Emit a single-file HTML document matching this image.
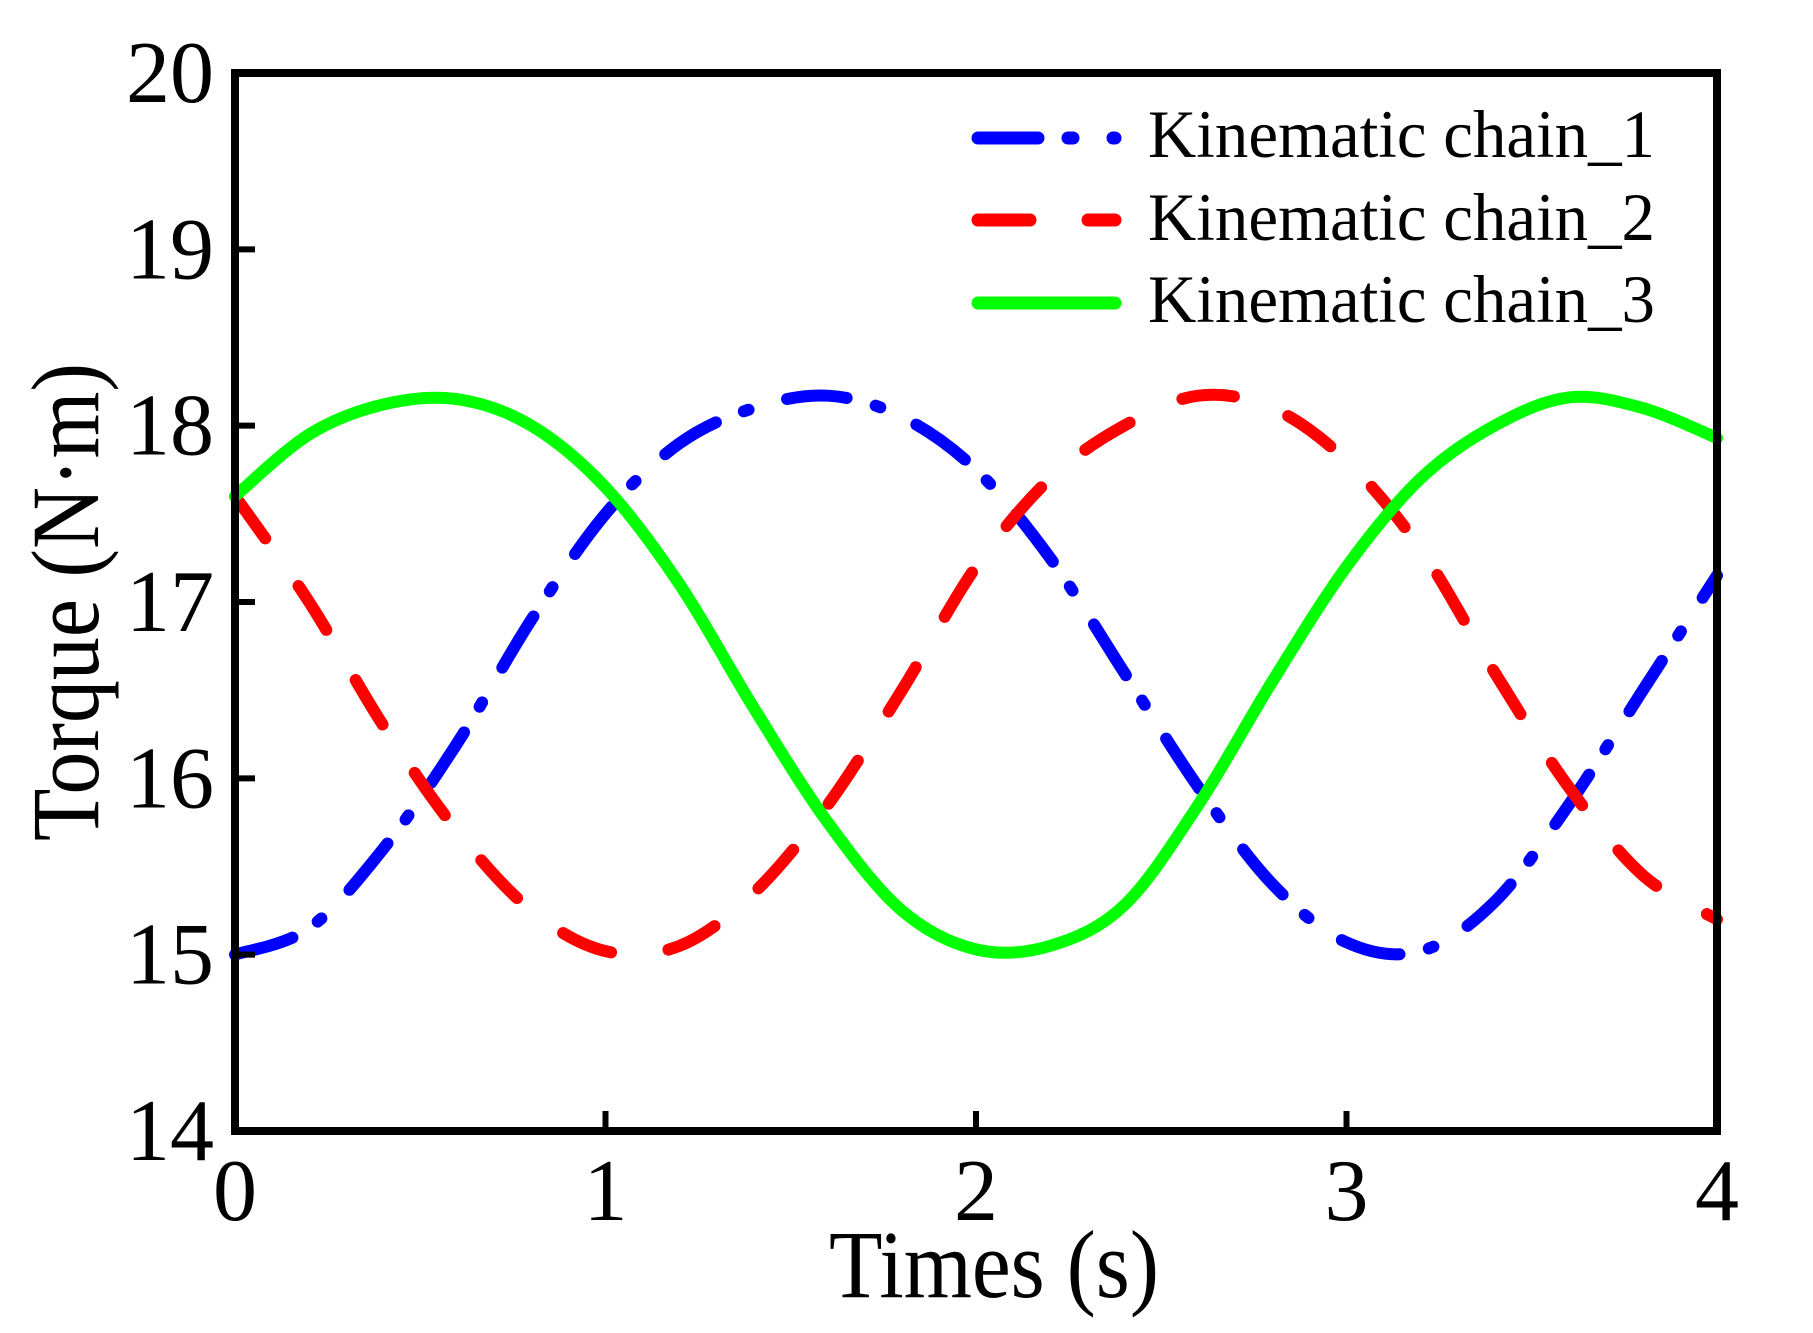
<!DOCTYPE html>
<html><head><meta charset="utf-8"><style>
html,body{margin:0;padding:0;background:#fff;}
svg text{font-family:"Liberation Serif",serif;fill:#000;}
</style></head><body>
<svg id="chart" width="1813" height="1328" viewBox="0 0 1813 1328" xmlns="http://www.w3.org/2000/svg">
<g id="series"></g>
<rect x="235" y="73" width="1482" height="1058" fill="none" stroke="#000" stroke-width="8"/>
<g id="ticks"></g>
<text x="994" y="1297" font-size="96" text-anchor="middle" textLength="330" lengthAdjust="spacingAndGlyphs">Times (s)</text>
<text transform="translate(98,602) rotate(-90)" font-size="96" text-anchor="middle" textLength="478" lengthAdjust="spacingAndGlyphs">Torque (N·m)</text>
<g>
<line x1="978" y1="138" x2="1115" y2="138" stroke="#0000ff" stroke-width="13" stroke-linecap="round" stroke-dasharray="60 30 5 40"/>
<text x="1148" y="157" font-size="68" textLength="507" lengthAdjust="spacingAndGlyphs">Kinematic chain_1</text>
<line x1="978" y1="220" x2="1115" y2="220" stroke="#ff0000" stroke-width="13" stroke-linecap="round" stroke-dasharray="52 58"/>
<text x="1148" y="240" font-size="68" textLength="507" lengthAdjust="spacingAndGlyphs">Kinematic chain_2</text>
<line x1="978" y1="303" x2="1115" y2="303" stroke="#00ff00" stroke-width="13" stroke-linecap="round"/>
<text x="1148" y="322" font-size="68" textLength="507" lengthAdjust="spacingAndGlyphs">Kinematic chain_3</text>
</g>
</svg>
<script>
const times = [0,0.2,0.4,0.6,0.8,1.0,1.2,1.4,1.6,1.8,2.0,2.2,2.4,2.6,2.8,3.0,3.2,3.4,3.6,3.8,4.0];
const chain1 = [15.0,15.15,15.6,16.2,16.9,17.5,17.9,18.1,18.17,18.05,17.75,17.25,16.6,15.95,15.4,15.07,15.02,15.3,15.85,16.5,17.15];
const chain2 = [17.6,17.0,16.3,15.7,15.25,15.02,15.05,15.35,15.85,16.5,17.2,17.7,18.0,18.17,18.1,17.8,17.3,16.6,15.95,15.45,15.2];
const chain3 = [17.6,17.95,18.12,18.15,18.0,17.65,17.1,16.4,15.75,15.25,15.03,15.05,15.28,15.85,16.55,17.2,17.7,18.0,18.16,18.1,17.93];
const xTicks = [0,1,2,3,4];
const yTicks = [14,15,16,17,18,19,20];
const xMin=0,xMax=4,yMin=14,yMax=20;
const L=235,R=1717,T=73,B=1131;
function sx(v){return L+(v-xMin)/(xMax-xMin)*(R-L);}
function sy(v){return B-(v-yMin)/(yMax-yMin)*(B-T);}
const NS="http://www.w3.org/2000/svg";
function pathFor(xs,ys){
  const p=xs.map((x,i)=>[sx(x),sy(ys[i])]);
  let d="M"+p[0][0]+","+p[0][1];
  for(let i=0;i<p.length-1;i++){
    const p0=p[Math.max(0,i-1)],p1=p[i],p2=p[i+1],p3=p[Math.min(p.length-1,i+2)];
    const c1x=p1[0]+(p2[0]-p0[0])/6,c1y=p1[1]+(p2[1]-p0[1])/6;
    const c2x=p2[0]-(p3[0]-p1[0])/6,c2y=p2[1]-(p3[1]-p1[1])/6;
    d+=` C${c1x},${c1y} ${c2x},${c2y} ${p2[0]},${p2[1]}`;
  }
  return d;
}
const sg=document.getElementById("series");
function addSeries(ys,color,dash,name){
  const el=document.createElementNS(NS,"path");
  el.setAttribute("d",pathFor(times,ys));
  el.setAttribute("fill","none");
  el.setAttribute("stroke",color);
  el.setAttribute("stroke-width","12");
  el.setAttribute("stroke-linecap","round");
  if(dash) el.setAttribute("stroke-dasharray",dash);
  
  
  sg.appendChild(el);
}
addSeries(chain1,"#0000ff","60 30 5 40","line-chain-1");
addSeries(chain2,"#ff0000","52 58","line-chain-2");
addSeries(chain3,"#00ff00",null,"line-chain-3");
const tg=document.getElementById("ticks");
xTicks.forEach(v=>{
  const t=document.createElementNS(NS,"line");
  t.setAttribute("x1",sx(v));t.setAttribute("x2",sx(v));
  t.setAttribute("y1",B);t.setAttribute("y2",B-20);
  t.setAttribute("stroke","#000");t.setAttribute("stroke-width","6");
  
  
  tg.appendChild(t);
  const l=document.createElementNS(NS,"text");
  l.setAttribute("x",sx(v));l.setAttribute("y",1220);
  l.setAttribute("font-size","88");l.setAttribute("text-anchor","middle");
  l.textContent=v;
  
  
  tg.appendChild(l);
});
yTicks.forEach(v=>{
  const t=document.createElementNS(NS,"line");
  t.setAttribute("x1",L);t.setAttribute("x2",L+20);
  t.setAttribute("y1",sy(v));t.setAttribute("y2",sy(v));
  t.setAttribute("stroke","#000");t.setAttribute("stroke-width","6");
  
  
  tg.appendChild(t);
  const l=document.createElementNS(NS,"text");
  l.setAttribute("x",214);l.setAttribute("y",sy(v)+29);
  l.setAttribute("font-size","88");l.setAttribute("text-anchor","end");
  l.textContent=v;
  
  
  tg.appendChild(l);
});
</script>
</body></html>
